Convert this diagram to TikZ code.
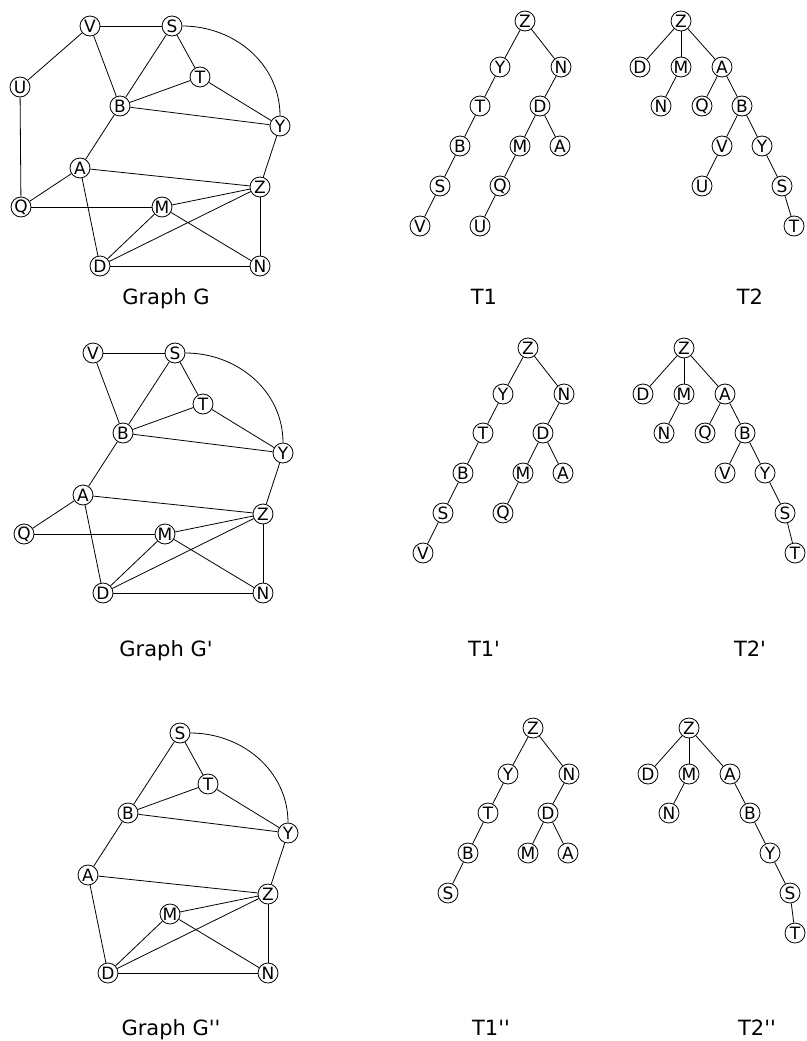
\documentclass[tikz,border=0pt]{standalone}
\usepackage{fontspec}
\setmainfont{DejaVu Sans}
\usepackage{tikz}

\begin{document}
\begin{tikzpicture}[x=1pt, y=-1pt, line width=0.8pt, state/.style ={circle, draw, fill=white, inner sep=0pt, minimum size=20pt, font=\fontsize{17}{17}\selectfont}, caption/.style={anchor=base, font=\fontsize{21}{21}\selectfont}]
	\useasboundingbox (0,0) rectangle (806,1041);
	% row 1: graph G, T1, T2
	\begin{scope}
	\node[state] (G-V) at (90,26) {V};
	\node[state] (G-S) at (172,26) {S};
	\node[state] (G-U) at (20,87) {U};
	\node[state] (G-T) at (200,77) {T};
	\node[state] (G-B) at (120,106) {B};
	\node[state] (G-Y) at (280,126) {Y};
	\node[state] (G-A) at (80,168) {A};
	\node[state] (G-Z) at (260,187) {Z};
	\node[state] (G-Q) at (21,207) {Q};
	\node[state] (G-M) at (162,207) {M};
	\node[state] (G-D) at (100,266) {D};
	\node[state] (G-N) at (260,266) {N};
	\path (G-V) edge (G-S) (G-V) edge (G-U) (G-V) edge (G-B)
	(G-S) edge (G-B) (G-S) edge (G-T) (G-S) edge[out=0, in=90] (G-Y)
	(G-T) edge (G-B) (G-T) edge (G-Y) (G-B) edge (G-Y) (G-B) edge (G-A)
	(G-A) edge (G-Q) (G-A) edge (G-Z) (G-A) edge (G-D) (G-U) edge (G-Q)
	(G-Q) edge (G-M) (G-M) edge (G-Z) (G-M) edge (G-D) (G-M) edge (G-N)
	(G-Z) edge (G-D) (G-Z) edge (G-N) (G-Z) edge (G-Y) (G-D) edge (G-N);
	\node[state] (T1-Z) at (525,21) {Z};
	\node[state] (T1-Y) at (500,67) {Y};
	\node[state] (T1-N) at (561,67) {N};
	\node[state] (T1-T) at (480,106) {T};
	\node[state] (T1-D) at (540,106) {D};
	\node[state] (T1-B) at (460,146) {B};
	\node[state] (T1-M) at (520,146) {M};
	\node[state] (T1-A) at (560,146) {A};
	\node[state] (T1-S) at (440,186) {S};
	\node[state] (T1-Q) at (500,186) {Q};
	\node[state] (T1-V) at (420,226) {V};
	\node[state] (T1-U) at (480,226) {U};
	\path (T1-Z) edge (T1-Y) (T1-Z) edge (T1-N) (T1-Y) edge (T1-T)
	(T1-T) edge (T1-B) (T1-B) edge (T1-S) (T1-S) edge (T1-V)
	(T1-N) edge (T1-D) (T1-D) edge (T1-M) (T1-D) edge (T1-A)
	(T1-M) edge (T1-Q) (T1-Q) edge (T1-U);
	\node[state] (T2-Z) at (681,21) {Z};
	\node[state] (T2-D) at (640,67) {D};
	\node[state] (T2-M) at (681,67) {M};
	\node[state] (T2-A) at (722,67) {A};
	\node[state] (T2-N) at (661,106) {N};
	\node[state] (T2-Q) at (702,106) {Q};
	\node[state] (T2-B) at (742,106) {B};
	\node[state] (T2-V) at (722,146) {V};
	\node[state] (T2-Y) at (762,146) {Y};
	\node[state] (T2-U) at (702,186) {U};
	\node[state] (T2-S) at (782,186) {S};
	\node[state] (T2-T) at (794,226) {T};
	\path (T2-Z) edge (T2-D) (T2-Z) edge (T2-M) (T2-Z) edge (T2-A)
	(T2-M) edge (T2-N) (T2-A) edge (T2-Q) (T2-A) edge (T2-B)
	(T2-B) edge (T2-V) (T2-B) edge (T2-Y) (T2-V) edge (T2-U)
	(T2-Y) edge (T2-S) (T2-S) edge (T2-T);
	\end{scope}
	% row 2: graph G', T1', T2'
	\begin{scope}[shift={(3,327)}]
	\node[state] (Gp-V) at (90,26) {V};
	\node[state] (Gp-S) at (172,26) {S};
	\node[state] (Gp-T) at (200,77) {T};
	\node[state] (Gp-B) at (120,106) {B};
	\node[state] (Gp-Y) at (280,126) {Y};
	\node[state] (Gp-A) at (80,168) {A};
	\node[state] (Gp-Z) at (260,187) {Z};
	\node[state] (Gp-Q) at (21,207) {Q};
	\node[state] (Gp-M) at (162,207) {M};
	\node[state] (Gp-D) at (100,266) {D};
	\node[state] (Gp-N) at (260,266) {N};
	\path (Gp-V) edge (Gp-S) (Gp-V) edge (Gp-B)
	(Gp-S) edge (Gp-B) (Gp-S) edge (Gp-T) (Gp-S) edge[out=0, in=90] (Gp-Y)
	(Gp-T) edge (Gp-B) (Gp-T) edge (Gp-Y) (Gp-B) edge (Gp-Y) (Gp-B) edge (Gp-A)
	(Gp-A) edge (Gp-Q) (Gp-A) edge (Gp-Z) (Gp-A) edge (Gp-D)
	(Gp-Q) edge (Gp-M) (Gp-M) edge (Gp-Z) (Gp-M) edge (Gp-D) (Gp-M) edge (Gp-N)
	(Gp-Z) edge (Gp-D) (Gp-Z) edge (Gp-N) (Gp-Z) edge (Gp-Y) (Gp-D) edge (Gp-N);
	\node[state] (T1p-Z) at (525,21) {Z};
	\node[state] (T1p-Y) at (500,67) {Y};
	\node[state] (T1p-N) at (561,67) {N};
	\node[state] (T1p-T) at (480,106) {T};
	\node[state] (T1p-D) at (540,106) {D};
	\node[state] (T1p-B) at (460,146) {B};
	\node[state] (T1p-M) at (520,146) {M};
	\node[state] (T1p-A) at (560,146) {A};
	\node[state] (T1p-S) at (440,186) {S};
	\node[state] (T1p-Q) at (500,186) {Q};
	\node[state] (T1p-V) at (420,226) {V};
	\path (T1p-Z) edge (T1p-Y) (T1p-Z) edge (T1p-N) (T1p-Y) edge (T1p-T)
	(T1p-T) edge (T1p-B) (T1p-B) edge (T1p-S) (T1p-S) edge (T1p-V)
	(T1p-N) edge (T1p-D) (T1p-D) edge (T1p-M) (T1p-D) edge (T1p-A)
	(T1p-M) edge (T1p-Q);
	\node[state] (T2p-Z) at (681,21) {Z};
	\node[state] (T2p-D) at (640,67) {D};
	\node[state] (T2p-M) at (681,67) {M};
	\node[state] (T2p-A) at (722,67) {A};
	\node[state] (T2p-N) at (661,106) {N};
	\node[state] (T2p-Q) at (702,106) {Q};
	\node[state] (T2p-B) at (742,106) {B};
	\node[state] (T2p-V) at (722,146) {V};
	\node[state] (T2p-Y) at (762,146) {Y};
	\node[state] (T2p-S) at (782,186) {S};
	\node[state] (T2p-T) at (792,226) {T};
	\path (T2p-Z) edge (T2p-D) (T2p-Z) edge (T2p-M) (T2p-Z) edge (T2p-A)
	(T2p-M) edge (T2p-N) (T2p-A) edge (T2p-Q) (T2p-A) edge (T2p-B)
	(T2p-B) edge (T2p-V) (T2p-B) edge (T2p-Y)
	(T2p-Y) edge (T2p-S) (T2p-S) edge (T2p-T);
	\end{scope}
	% row 3: graph G'', T1'', T2''
	\begin{scope}[shift={(8,707)}]
	\node[state] (Gpp-S) at (172,26) {S};
	\node[state] (Gpp-T) at (200,77) {T};
	\node[state] (Gpp-B) at (120,106) {B};
	\node[state] (Gpp-Y) at (280,126) {Y};
	\node[state] (Gpp-A) at (80,168) {A};
	\node[state] (Gpp-Z) at (260,187) {Z};
	\node[state] (Gpp-M) at (162,207) {M};
	\node[state] (Gpp-D) at (100,266) {D};
	\node[state] (Gpp-N) at (260,266) {N};
	\path (Gpp-S) edge (Gpp-B) (Gpp-S) edge (Gpp-T) (Gpp-S) edge[out=0, in=90] (Gpp-Y)
	(Gpp-T) edge (Gpp-B) (Gpp-T) edge (Gpp-Y) (Gpp-B) edge (Gpp-Y) (Gpp-B) edge (Gpp-A)
	(Gpp-A) edge (Gpp-Z) (Gpp-A) edge (Gpp-D)
	(Gpp-M) edge (Gpp-Z) (Gpp-M) edge (Gpp-D) (Gpp-M) edge (Gpp-N)
	(Gpp-Z) edge (Gpp-D) (Gpp-Z) edge (Gpp-N) (Gpp-Z) edge (Gpp-Y) (Gpp-D) edge (Gpp-N);
	\node[state] (T1pp-Z) at (525,21) {Z};
	\node[state] (T1pp-Y) at (500,67) {Y};
	\node[state] (T1pp-N) at (561,67) {N};
	\node[state] (T1pp-T) at (480,106) {T};
	\node[state] (T1pp-D) at (540,106) {D};
	\node[state] (T1pp-B) at (460,146) {B};
	\node[state] (T1pp-M) at (520,146) {M};
	\node[state] (T1pp-A) at (560,146) {A};
	\node[state] (T1pp-S) at (440,186) {S};
	\path (T1pp-Z) edge (T1pp-Y) (T1pp-Z) edge (T1pp-N) (T1pp-Y) edge (T1pp-T)
	(T1pp-T) edge (T1pp-B) (T1pp-B) edge (T1pp-S)
	(T1pp-N) edge (T1pp-D) (T1pp-D) edge (T1pp-M) (T1pp-D) edge (T1pp-A);
	\node[state] (T2pp-Z) at (681,21) {Z};
	\node[state] (T2pp-D) at (640,67) {D};
	\node[state] (T2pp-M) at (681,67) {M};
	\node[state] (T2pp-A) at (722,67) {A};
	\node[state] (T2pp-N) at (661,106) {N};
	\node[state] (T2pp-B) at (742,106) {B};
	\node[state] (T2pp-Y) at (762,146) {Y};
	\node[state] (T2pp-S) at (782,186) {S};
	\node[state] (T2pp-T) at (787,226) {T};
	\path (T2pp-Z) edge (T2pp-D) (T2pp-Z) edge (T2pp-M) (T2pp-Z) edge (T2pp-A)
	(T2pp-M) edge (T2pp-N) (T2pp-A) edge (T2pp-B)
	(T2pp-B) edge (T2pp-Y) (T2pp-Y) edge (T2pp-S) (T2pp-S) edge (T2pp-T);
	\end{scope}
	% captions
	\node[caption] (capG) at (166,304) {Graph G};
	\node[caption] (capT1) at (484,304) {T1};
	\node[caption] (capT2) at (750,304) {T2};
	\node[caption] (capGp) at (166,656) {Graph G\textquotesingle};
	\node[caption] (capT1p) at (484,656) {T1\textquotesingle};
	\node[caption] (capT2p) at (750,656) {T2\textquotesingle};
	\node[caption] (capGpp) at (171,1035) {Graph G\textquotesingle\textquotesingle};
	\node[caption] (capT1pp) at (491,1035) {T1\textquotesingle\textquotesingle};
	\node[caption] (capT2pp) at (757,1035) {T2\textquotesingle\textquotesingle};
\end{tikzpicture}
\end{document}
